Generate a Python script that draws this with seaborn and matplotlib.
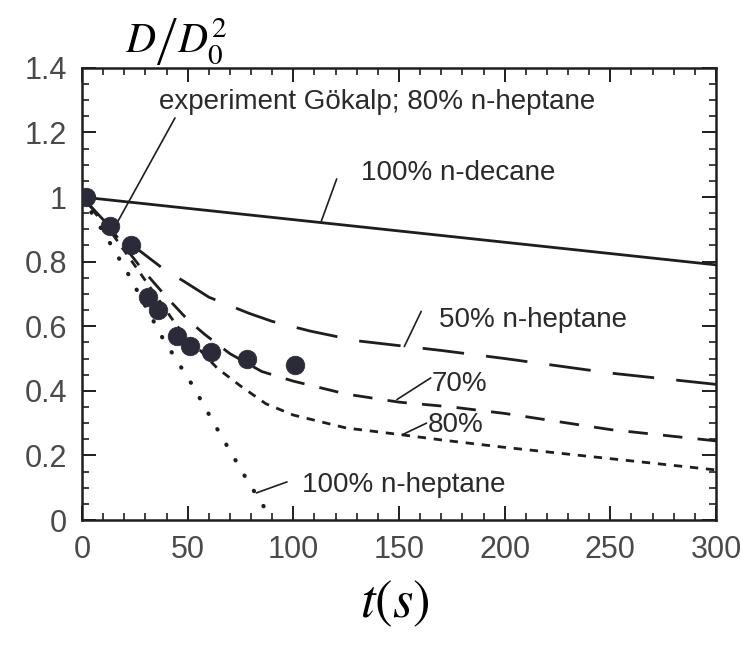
import matplotlib
matplotlib.use("Agg")
import matplotlib.pyplot as plt
import seaborn as sns
import pandas as pd
from matplotlib.ticker import MultipleLocator

# ---- data ----
exp_t = [2, 13, 23, 31, 36, 45, 51, 61, 78, 101]
exp_y = [1.0, 0.91, 0.85, 0.69, 0.65, 0.57, 0.54, 0.52, 0.50, 0.48]

decane_t = [0, 300]
decane_y = [1.0, 0.79]

hep50_t = [0, 10, 20, 30, 40, 48, 60, 79, 90, 108, 130, 150, 170, 200, 250, 300]
hep50_y = [1.0, 0.93, 0.87, 0.82, 0.77, 0.74, 0.69, 0.64, 0.615, 0.585, 0.555, 0.54, 0.525, 0.50, 0.455, 0.42]

hep70_t = [0, 15, 28, 40, 50, 58, 70, 85, 100, 125, 150, 175, 200, 250, 300]
hep70_y = [1.0, 0.89, 0.78, 0.69, 0.62, 0.575, 0.515, 0.46, 0.43, 0.39, 0.365, 0.35, 0.33, 0.28, 0.245]

hep80_t = [0, 15, 28, 45, 64, 75, 87, 100, 125, 150, 170, 200, 250, 300]
hep80_y = [1.0, 0.88, 0.76, 0.60, 0.47, 0.415, 0.36, 0.325, 0.285, 0.265, 0.248, 0.225, 0.19, 0.155]

hep100_t = [0, 13, 22, 38, 52, 65, 78, 90]
hep100_y = [1.0, 0.86, 0.76, 0.565, 0.42, 0.27, 0.125, 0.0]

xticks = [0, 50, 100, 150, 200, 250, 300]
yticks = [0, 0.2, 0.4, 0.6, 0.8, 1.0, 1.2, 1.4]
yticklabels = ["0", "0.2", "0.4", "0.6", "0.8", "1", "1.2", "1.4"]

# ---- style ----
sns.set_theme(style="ticks")
plt.rcParams["font.family"] = ["Liberation Sans", "DejaVu Sans"]
plt.rcParams["mathtext.fontset"] = "stix"

fig = plt.figure(figsize=(7.41, 6.46), dpi=100)
ax = fig.add_axes([0.1107, 0.195, 0.8556, 0.7])

ink = "#1e1e1e"
lw = 2.0

def line(t, y, style, width=lw, cap="butt"):
    df = pd.DataFrame({"t": t, "y": y})
    sns.lineplot(data=df, x="t", y="y", ax=ax, color=ink, linewidth=width,
                 linestyle=style, dash_capstyle=cap, sort=False)

line(decane_t, decane_y, "-")
line(hep50_t, hep50_y, (0, (15, 8)))
line(hep70_t, hep70_y, (0, (7, 5.5)))
line(hep80_t, hep80_y, (0, (3, 2.8)))
line(hep100_t, hep100_y, (0, (0.1, 4.2)), width=3.0, cap="round")

sns.scatterplot(x=exp_t, y=exp_y, ax=ax, s=180, color="#2a2a38",
                edgecolor="#2a2a38", linewidth=0.5, zorder=5)

# ---- annotations ----
tc = "#2a2a2a"
fs = 20
def note(text, xy_text, xy_from, xy_to):
    ax.text(xy_text[0], xy_text[1], text, fontsize=fs, color=tc,
            ha="left", va="center")
    ax.annotate("", xy=xy_to, xytext=xy_from,
                arrowprops=dict(arrowstyle="-", color=ink, lw=1.2,
                                shrinkA=0, shrinkB=0))

note("experiment Gökalp; 80% n-heptane", (36.5, 1.295), (44, 1.245), (17, 0.925))
note("100% n-decane", (132, 1.075), (120.5, 1.056), (113, 0.921))
note("50% n-heptane", (169, 0.62), (160.5, 0.646), (152.5, 0.537))
note("70%", (165.5, 0.42), (165, 0.44), (149, 0.373))
note("80%", (163.5, 0.293), (163, 0.30), (151.5, 0.264))
note("100% n-heptane", (104, 0.109), (97, 0.118), (82.5, 0.084))

# ---- axes ----
ax.set_xlim(0, 300)
ax.set_ylim(0, 1.4)
ax.set_xticks(xticks)
ax.set_yticks(yticks)
ax.set_yticklabels(yticklabels)
ax.xaxis.set_minor_locator(MultipleLocator(10))
ax.yaxis.set_minor_locator(MultipleLocator(0.05))
ax.tick_params(which="both", direction="in", top=True, right=True,
               colors=ink, labelcolor="#4a4a4a")
ax.tick_params(which="major", length=10, width=1.4, labelsize=22, pad=11)
ax.tick_params(which="minor", length=5, width=1.2)
for s in ax.spines.values():
    s.set_linewidth(1.8)
    s.set_color(ink)
ax.set_xlabel("")
ax.set_ylabel("")

fig.text(0.238, 0.935, r"$D\left/D_0^2\right.$", fontsize=30, color="black",
         ha="center", va="center")
fig.text(0.533, 0.065, r"$t\left(s\right)$", fontsize=38, color="black",
         ha="center", va="center")

fig.savefig("out.png", dpi=100)
